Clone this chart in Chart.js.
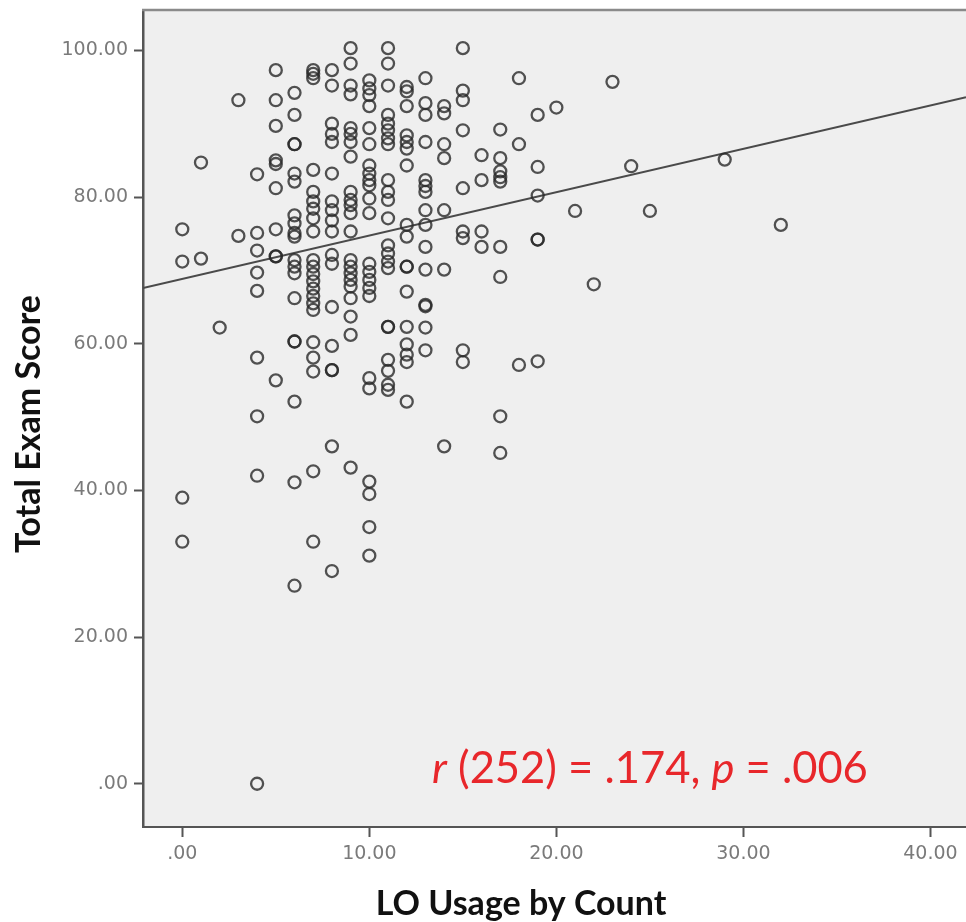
<!DOCTYPE html>
<html>
<head>
<meta charset="utf-8">
<title>Total Exam Score vs LO Usage by Count</title>
<script src="https://cdn.jsdelivr.net/npm/chart.js@4.4.1/dist/chart.umd.min.js"></script>
<style>
  html, body { margin: 0; padding: 0; background: #ffffff; }
  #wrap { width: 966px; height: 922px; }
</style>
</head>
<body>
<div id="wrap"><canvas id="scatterChart" width="966" height="922"></canvas></div>
<script>
// LO usage counts (x) and the exam scores seen at each count (y)
const usageCounts = [0, 1, 2, 3, 4, 5, 6, 7, 8, 9, 10, 11, 12, 13, 14, 15, 16, 17, 18, 19, 20, 21, 22, 23, 24, 25, 29, 32];
const examScores = [
    [75.6, 71.2, 39.0, 33.0],
    [84.7, 71.6],
    [62.2],
    [93.2, 74.7],
    [83.1, 75.1, 72.7, 69.7, 67.2, 58.1, 50.1, 42.0, 0],
    [97.3, 93.2, 89.7, 85.0, 84.5, 81.2, 75.6, 71.9, 71.9, 55.0],
    [94.2, 91.2, 87.2, 87.2, 83.2, 82.1, 77.5, 76.4, 75.1, 74.6, 71.4, 70.5, 69.6, 66.2, 60.3, 60.3, 52.1, 41.1, 27.0],
    [97.3, 96.8, 96.2, 83.7, 80.7, 79.4, 78.4, 77.1, 75.3, 71.4, 70.5, 69.5, 68.5, 67.5, 66.5, 65.5, 64.6, 60.2, 58.1, 56.2, 42.6, 33.0],
    [97.3, 95.2, 90.0, 88.6, 87.5, 83.2, 79.4, 78.2, 76.8, 75.3, 72.1, 70.9, 65.0, 59.7, 56.4, 56.4, 46.0, 29.0],
    [100.3, 98.2, 95.2, 94.0, 89.4, 88.6, 87.5, 85.5, 80.7, 79.6, 78.9, 77.8, 75.3, 71.4, 70.5, 69.6, 68.7, 67.8, 66.2, 63.7, 61.2, 43.1],
    [95.9, 94.8, 93.9, 92.4, 89.4, 87.2, 84.3, 83.2, 82.3, 81.6, 79.8, 77.8, 70.9, 69.8, 68.7, 67.6, 66.5, 55.3, 53.9, 41.2, 39.5, 35.0, 31.1],
    [100.3, 98.2, 95.2, 91.2, 90.0, 89.1, 88.0, 87.2, 82.3, 80.7, 79.6, 77.1, 73.4, 72.3, 71.2, 70.3, 62.3, 62.3, 57.8, 56.3, 54.4, 53.7],
    [95.0, 94.4, 92.4, 88.4, 87.5, 86.6, 84.3, 76.2, 74.6, 70.5, 70.5, 67.1, 62.3, 59.9, 58.5, 57.5, 52.1],
    [96.2, 92.8, 91.2, 87.5, 82.3, 81.5, 80.7, 78.2, 76.2, 73.2, 70.1, 65.3, 65.1, 62.2, 59.1],
    [92.4, 91.4, 87.2, 85.3, 78.2, 70.1, 46.0],
    [100.3, 94.5, 93.2, 89.1, 81.2, 75.3, 74.4, 59.1, 57.5],
    [85.7, 82.3, 75.3, 73.2],
    [89.2, 85.3, 83.5, 82.7, 82.1, 73.2, 69.1, 50.1, 45.1],
    [96.2, 87.2, 57.1],
    [91.2, 84.1, 80.2, 74.2, 74.2, 57.6],
    [92.2],
    [78.1],
    [68.1],
    [95.7],
    [84.2],
    [78.1],
    [85.1],
    [76.2]
];

// Fit line (ends at the plot edges)
const fitLineX = [-2.1, 41.9];
const fitLineY = [67.6, 93.6];

// Tick values and their labels
const xTicks = [0, 10, 20, 30, 40];
const xTickLabels = ['.00', '10.00', '20.00', '30.00', '40.00'];
const yTicks = [0, 20, 40, 60, 80, 100];
const yTickLabels = ['.00', '20.00', '40.00', '60.00', '80.00', '100.00'];

// Points for the library
function buildPoints() {
    return usageCounts.flatMap((count, i) => examScores[i].map(score => ({ x: count, y: score })));
}

// Background, top edge, axis titles and the red note
const framePlugin = {
    id: 'frame',
    beforeDraw(chart) {
        const { ctx, chartArea: a } = chart;
        ctx.save();
        ctx.fillStyle = '#efefef';
        ctx.fillRect(a.left, a.top, a.right - a.left, a.bottom - a.top);
        ctx.restore();
    },
    afterDraw(chart) {
        const { ctx, chartArea: a } = chart;
        ctx.save();

        // top edge of the frame
        ctx.strokeStyle = '#8a8a8a';
        ctx.lineWidth = 2.5;
        ctx.beginPath();
        ctx.moveTo(a.left - 1, a.top);
        ctx.lineTo(a.right, a.top);
        ctx.stroke();

        // axis titles
        ctx.fillStyle = '#111111';
        ctx.font = 'bold 34px Lato';
        ctx.textAlign = 'center';
        ctx.textBaseline = 'alphabetic';
        ctx.fillText('LO Usage by Count', 521, 915);

        ctx.save();
        ctx.translate(40, 424);
        ctx.rotate(-Math.PI / 2);
        ctx.fillText('Total Exam Score', 0, 0);
        ctx.restore();

        // correlation note
        const parts = [
            { text: 'r', italic: true },
            { text: ' (252) = .174, ', italic: false },
            { text: 'p', italic: true },
            { text: ' = .006', italic: false }
        ];
        ctx.fillStyle = '#e8272b';
        ctx.textAlign = 'left';
        let x = 432;
        parts.forEach(p => {
            ctx.font = (p.italic ? 'italic ' : '') + '43.5px Lato';
            ctx.fillText(p.text, x, 783);
            x += ctx.measureText(p.text).width;
        });

        ctx.restore();
    }
};

function createScatterChart() {
    const canvas = document.getElementById('scatterChart');
    if (!canvas) return;
    const ctx = canvas.getContext('2d');

    window.scatterChart = new Chart(ctx, {
        type: 'scatter',
        data: {
            datasets: [
                {
                    label: 'Total Exam Score',
                    data: buildPoints(),
                    pointStyle: 'circle',
                    pointRadius: 6,
                    pointBorderWidth: 2.3,
                    pointBorderColor: 'rgba(40, 40, 40, 0.8)',
                    pointBackgroundColor: 'rgba(0, 0, 0, 0)',
                    order: 1
                },
                {
                    label: 'Fit line',
                    type: 'line',
                    data: fitLineX.map((x, i) => ({ x: x, y: fitLineY[i] })),
                    borderColor: '#4a4a4a',
                    borderWidth: 2,
                    pointRadius: 0,
                    fill: false,
                    tension: 0,
                    order: 2
                }
            ]
        },
        options: {
            responsive: false,
            animation: false,
            layout: {
                autoPadding: false,
                padding: { top: 10, right: 0, bottom: 0, left: 0 }
            },
            plugins: {
                legend: { display: false },
                tooltip: { enabled: false },
                title: { display: false }
            },
            scales: {
                x: {
                    type: 'linear',
                    min: -2.1,
                    max: 41.9,
                    afterBuildTicks: scale => { scale.ticks = xTicks.map(v => ({ value: v })); },
                    afterFit: scale => {
                        scale.height = 95;
                        scale.paddingLeft = 0;
                        scale.paddingRight = 0;
                    },
                    grid: {
                        drawOnChartArea: false,
                        drawTicks: true,
                        tickLength: 10,
                        tickWidth: 2,
                        tickColor: '#555555'
                    },
                    border: { display: true, color: '#555555', width: 2 },
                    ticks: {
                        padding: 6,
                        maxRotation: 0,
                        color: '#7a7a7a',
                        font: { family: 'DejaVu Sans', size: 19 },
                        callback: value => xTickLabels[xTicks.indexOf(value)]
                    }
                },
                y: {
                    type: 'linear',
                    min: -5.9,
                    max: 105.5,
                    afterBuildTicks: scale => { scale.ticks = yTicks.map(v => ({ value: v })); },
                    afterFit: scale => {
                        scale.width = 143;
                        scale.paddingTop = 0;
                        scale.paddingBottom = 0;
                    },
                    grid: {
                        drawOnChartArea: false,
                        drawTicks: true,
                        tickLength: 9,
                        tickWidth: 2,
                        tickColor: '#555555'
                    },
                    border: { display: true, color: '#555555', width: 2.5 },
                    ticks: {
                        padding: 6,
                        color: '#7a7a7a',
                        font: { family: 'DejaVu Sans', size: 19 },
                        callback: value => yTickLabels[yTicks.indexOf(value)]
                    }
                }
            }
        },
        plugins: [framePlugin]
    });
}

document.addEventListener('DOMContentLoaded', createScatterChart);
</script>
</body>
</html>
